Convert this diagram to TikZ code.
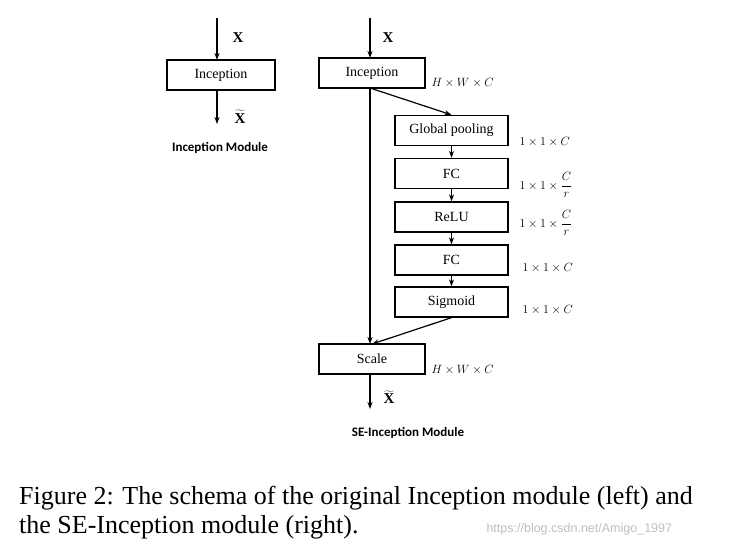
\documentclass[tikz,border=0pt]{standalone}
\usepackage{fontspec}
\setmainfont{Liberation Serif}
\newfontfamily\carlitofont{Carlito}
\newfontfamily\wmfont{Liberation Sans}
\usetikzlibrary{arrows.meta}
\begin{document}
\begin{tikzpicture}[x=1pt,y=-1pt,
 box/.style={draw,line width=1.3pt,minimum height=30pt,inner sep=0pt,font=\fontsize{14}{16}\selectfont},
 arr/.style={line width=1.2pt,-{Stealth[length=7pt,width=5pt]}},
 lab/.style={font=\fontsize{13}{15}\selectfont,anchor=west},
 ml/.style={font=\carlitofont\bfseries\fontsize{13}{15}\selectfont}]
\useasboundingbox (0,0) rectangle (730,550);
% left
\coordinate (l0) at (217,18);
\node[box,minimum width=108pt] (li) at (221,75) {Inception};
\draw[arr] (l0) -- (217,60);
\coordinate (l1) at (217,124);
\draw[arr] (217,90) -- (l1);
\node[font=\bfseries\fontsize{15}{17}\selectfont] (lx) at (238,38) {X};
\node[font=\fontsize{15}{17}\selectfont] (lxt) at (240,117) {$\widetilde{\mathbf{X}}$};
\node[ml] (lm) at (220,148) {Inception Module};
% right
\coordinate (r0) at (370,18);
\node[box,minimum width=106pt] (ri) at (372,73) {Inception};
\draw[arr] (r0) -- (370,58);
\node[font=\bfseries\fontsize{15}{17}\selectfont] (rx) at (388,38) {X};
\node[lab] at (428,83) {$H\times W\times C$};
\node[box,minimum width=113pt] (gp) at (451.5,130.5) {Global pooling};
\node[box,minimum width=113pt] (fc1) at (451.5,173.5) {FC};
\node[box,minimum width=113pt] (relu) at (451.5,217) {ReLU};
\node[box,minimum width=113pt] (fc2) at (451.5,260) {FC};
\node[box,minimum width=113pt] (sig) at (451.5,302) {Sigmoid};
\node[box,minimum width=106pt] (sc) at (372,359) {Scale};
\node[lab] at (516,142) {$1\times1\times C$};
\node[lab] at (516,185) {$1\times1\times\displaystyle\frac{C}{r}$};
\node[lab] at (516,223) {$1\times1\times\displaystyle\frac{C}{r}$};
\node[lab] at (519,268) {$1\times1\times C$};
\node[lab] at (519,310) {$1\times1\times C$};
\node[lab] at (428,370) {$H\times W\times C$};
\draw[arr] (370,88) -- (370,344);
\draw[arr] (370,88) -- (gp.north);
\draw[arr] (gp) -- (fc1);
\draw[arr] (fc1) -- (relu);
\draw[arr] (relu) -- (fc2);
\draw[arr] (fc2) -- (sig);
\draw[arr] (sig.south) -- (372,344);
\coordinate (r1) at (370,409);
\draw[arr] (370,374) -- (r1);
\node[font=\fontsize{15}{17}\selectfont] (rxt) at (389,397) {$\widetilde{\mathbf{X}}$};
\node[ml] (rm) at (408,433) {SE-Inception Module};
% caption
\node[anchor=west,font=\fontsize{26}{30}\selectfont,inner sep=0pt] (c1) at (19,498) {Figure 2: The schema of the original Inception module (left) and};
\node[anchor=west,font=\fontsize{26}{30}\selectfont,inner sep=0pt] (c2) at (19,527) {the SE-Inception module (right).};
\node[anchor=west,text=black!25,font=\wmfont\fontsize{12.5}{14}\selectfont] (wm) at (483,529) {https://blog.csdn.net/Amigo\_1997};
\end{tikzpicture}
\end{document}
